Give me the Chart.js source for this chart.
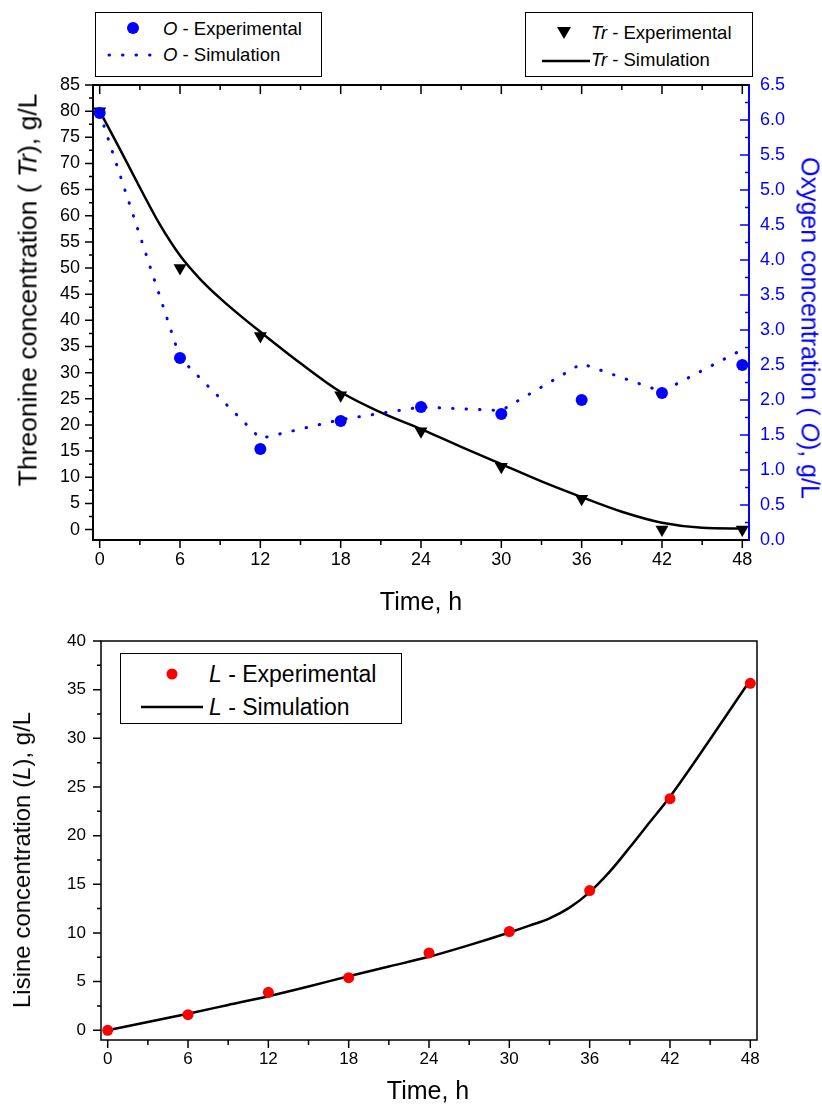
<!DOCTYPE html>
<html>
<head>
<meta charset="utf-8">
<script src="https://cdn.jsdelivr.net/npm/chart.js@4"></script>
<style>
  body { margin: 0; background: #fff; }
  #page { position: relative; width: 822px; height: 1111px; background: #fff; font-family: "Liberation Sans", Arial, sans-serif; }
  canvas { position: absolute; left: 0; }
  .title { position: absolute; white-space: nowrap; font-size: 25px; color: #000; }
  .legend { position: absolute; border: 1px solid #000; background: #fff; }
  .item { position: absolute; white-space: nowrap; transform: translateY(-50%); }
  .mark { position: absolute; }
</style>
</head>
<body>
<div id="page">
  <canvas id="top-chart" width="822" height="615" style="top:0"></canvas>
  <canvas id="bottom-chart" width="822" height="496" style="top:615px"></canvas>

  <!-- legends of the upper chart -->
  <div class="legend" style="left:95px; top:12px; width:225px; height:63px;">
    <svg class="mark" style="left:30px; top:8px" width="14" height="14"><circle cx="7" cy="7" r="6" fill="#0000ff"/></svg>
    <div class="item" style="left:67px; top:16px; font-size:18.5px;"><i>O</i> - Experimental</div>
    <svg class="mark" style="left:10px; top:38px" width="50" height="8"><line x1="3" y1="4" x2="48" y2="4" stroke="#0000ff" stroke-width="3" stroke-linecap="round" stroke-dasharray="0.5 13"/></svg>
    <div class="item" style="left:67px; top:42px; font-size:18.5px;"><i>O</i> - Simulation</div>
  </div>
  <div class="legend" style="left:525px; top:12px; width:226px; height:63px;">
    <svg class="mark" style="left:30px; top:13px" width="16" height="14"><polygon points="1,1 15,1 8,13" fill="#000"/></svg>
    <div class="item" style="left:65px; top:20px; font-size:18.5px;"><i>Tr</i> - Experimental</div>
    <svg class="mark" style="left:16px; top:45px" width="48" height="6"><line x1="0" y1="3" x2="48" y2="3" stroke="#000" stroke-width="2.5"/></svg>
    <div class="item" style="left:65px; top:47px; font-size:18.5px;"><i>Tr</i> - Simulation</div>
  </div>

  <!-- legend of the lower chart -->
  <div class="legend" style="left:120px; top:653px; width:280px; height:69px;">
    <svg class="mark" style="left:44px; top:13px" width="14" height="14"><circle cx="7" cy="7" r="5.5" fill="#ff0000"/></svg>
    <div class="item" style="left:88px; top:20px; font-size:23px;"><i>L</i> - Experimental</div>
    <svg class="mark" style="left:20px; top:50px" width="62" height="6"><line x1="0" y1="3" x2="62" y2="3" stroke="#000" stroke-width="2.5"/></svg>
    <div class="item" style="left:88px; top:53px; font-size:23px;"><i>L</i> - Simulation</div>
  </div>

  <!-- axis titles -->
  <div class="title" style="left:28px; top:290px; font-size:26.5px; transform:translate(-50%,-50%) rotate(-90deg);">Threonine concentration ( <i>Tr</i>), g/L</div>
  <div class="title" style="left:810px; top:328px; color:#0000ff; transform:translate(-50%,-50%) rotate(90deg);">Oxygen concentration ( <i>O</i>), g/L</div>
  <div class="title" style="left:421px; top:601px; transform:translate(-50%,-50%);">Time, h</div>
  <div class="title" style="left:22px; top:860px; font-size:24px; transform:translate(-50%,-50%) rotate(-90deg);">Lisine concentration (<i>L</i>), g/L</div>
  <div class="title" style="left:428px; top:1090px; transform:translate(-50%,-50%);">Time, h</div>
</div>

<script>
// sampling times of the experiments, h
const timeExp = [0, 6, 12, 18, 24, 30, 36, 42, 48];

// oxygen, g/L (right axis of the upper chart)
const oxygenExp = [6.1, 2.6, 1.3, 1.7, 1.9, 1.8, 2.0, 2.1, 2.5];
const oxygenSimTime = [0, 6, 12, 18, 24, 30, 36, 42, 48];
const oxygenSim = [6.1, 2.6, 1.45, 1.72, 1.9, 1.85, 2.52, 2.12, 2.72];

// threonine, g/L (left axis of the upper chart)
const threonineExp = [80, 50, 37, 25.7, 18.8, 12.0, 5.9, 0, 0];
const threonineSimTime = [0, 1.5, 3, 4.5, 6, 7.5, 9, 10.5, 12, 15, 18, 21, 24, 27, 30, 33, 36, 39, 42, 45, 48];
const threonineSim = [80, 72.8, 65.4, 58.3, 52.4, 47.9, 44.2, 40.9, 37.8, 31.8, 26.3, 22.4, 19.2, 15.8, 12.5, 9.2, 6.2, 3.4, 1.3, 0.35, 0.2];

// lisine, g/L (lower chart)
const lisineExp = [0, 1.6, 3.9, 5.4, 7.95, 10.15, 14.35, 23.8, 35.65];
const lisineSimTime = [0, 3, 6, 9, 12, 15, 18, 21, 24, 27, 30, 31.5, 33, 34.5, 36, 37.5, 39, 40.5, 42, 45, 48];
const lisineSim = [0, 0.85, 1.7, 2.6, 3.5, 4.5, 5.55, 6.55, 7.55, 8.75, 10.05, 10.75, 11.5, 12.6, 14.2, 16.3, 18.8, 21.4, 24.0, 29.9, 36.0];

// tick labels
const timeTicks = [0, 6, 12, 18, 24, 30, 36, 42, 48];
const threonineTicks = [0, 5, 10, 15, 20, 25, 30, 35, 40, 45, 50, 55, 60, 65, 70, 75, 80, 85];
const oxygenTicks = [0, 0.5, 1, 1.5, 2, 2.5, 3, 3.5, 4, 4.5, 5, 5.5, 6, 6.5];
const lisineTicks = [0, 5, 10, 15, 20, 25, 30, 35, 40];

const FONT = '"Liberation Sans", Arial, sans-serif';

function pairs(xs, ys) {
    return xs.map((x, i) => ({ x: x, y: ys[i] }));
}

// minor ticks sit half way between two labelled ones
function halves(ticks) {
    const out = [];
    for (let i = 0; i < ticks.length - 1; i++) out.push((ticks[i] + ticks[i + 1]) / 2);
    return out;
}

function fixTicks(values) {
    return scale => { scale.ticks = values.map(v => ({ value: v })); };
}

/**
 * Axis lines and tick marks, drawn from the chart scales
 */
function drawMarks(ctx, scale, values, edge, len, color) {
    ctx.strokeStyle = color;
    ctx.lineWidth = 1.5;
    ctx.beginPath();
    values.forEach(v => {
        const p = scale.getPixelForValue(v);
        if (scale.isHorizontal()) {
            ctx.moveTo(p, edge);
            ctx.lineTo(p, edge + len);
        } else {
            ctx.moveTo(edge, p);
            ctx.lineTo(edge + len, p);
        }
    });
    ctx.stroke();
}

function drawLine(ctx, x1, y1, x2, y2, color, width) {
    ctx.strokeStyle = color;
    ctx.lineWidth = width;
    ctx.beginPath();
    ctx.moveTo(x1, y1);
    ctx.lineTo(x2, y2);
    ctx.stroke();
}

const topFrame = {
    id: 'topFrame',
    afterDraw(chart) {
        const ctx = chart.ctx;
        const a = chart.chartArea;
        const x = chart.scales.x, y = chart.scales.y, y2 = chart.scales.y2;
        ctx.save();
        ctx.lineCap = 'butt';
        // bottom axis, ticks outward
        drawMarks(ctx, x, timeTicks, a.bottom, 8, '#000');
        drawMarks(ctx, x, halves(timeTicks), a.bottom, 5, '#000');
        // top axis, ticks inward
        drawMarks(ctx, x, timeTicks, a.top, 9, '#000');
        drawMarks(ctx, x, halves(timeTicks), a.top, 5, '#000');
        // left axis, ticks outward
        drawMarks(ctx, y, threonineTicks, a.left, -8, '#000');
        drawMarks(ctx, y, halves(threonineTicks), a.left, -4, '#000');
        // right axis (blue), ticks inward
        drawMarks(ctx, y2, oxygenTicks, a.right, -9, '#0000ff');
        drawMarks(ctx, y2, halves(oxygenTicks), a.right, -4, '#0000ff');
        drawLine(ctx, a.left, a.bottom, a.right, a.bottom, '#000', 2);
        drawLine(ctx, a.left, a.top, a.right, a.top, '#000', 2);
        drawLine(ctx, a.left, a.top - 1, a.left, a.bottom + 1, '#000', 2);
        drawLine(ctx, a.right, a.top - 1, a.right, a.bottom + 1, '#0000ff', 2);
        ctx.restore();
    }
};

const bottomFrame = {
    id: 'bottomFrame',
    afterDraw(chart) {
        const ctx = chart.ctx;
        const a = chart.chartArea;
        const x = chart.scales.x, y = chart.scales.y;
        ctx.save();
        drawMarks(ctx, x, timeTicks, a.bottom, 8, '#000');
        drawMarks(ctx, x, halves(timeTicks), a.bottom, 5, '#000');
        drawMarks(ctx, y, lisineTicks, a.left, -8, '#000');
        drawMarks(ctx, y, halves(lisineTicks), a.left, -4, '#000');
        ctx.strokeStyle = '#000';
        ctx.lineWidth = 1.5;
        ctx.strokeRect(a.left, a.top, a.right - a.left, a.bottom - a.top);
        ctx.restore();
    }
};

/**
 * Upper chart: threonine and oxygen
 */
new Chart(document.getElementById('top-chart'), {
    type: 'scatter',
    data: {
        datasets: [
            {
                label: 'O - Experimental',
                data: pairs(timeExp, oxygenExp),
                yAxisID: 'y2',
                pointStyle: 'circle',
                pointRadius: 6,
                backgroundColor: '#0000ff',
                borderColor: '#0000ff',
                borderWidth: 0,
                showLine: false,
                clip: false
            },
            {
                label: 'O - Simulation',
                data: pairs(oxygenSimTime, oxygenSim),
                yAxisID: 'y2',
                showLine: true,
                borderColor: '#0000ff',
                borderWidth: 3,
                borderDash: [0.5, 13],
                borderCapStyle: 'round',
                pointRadius: 0,
                tension: 0,
                clip: false
            },
            {
                label: 'Tr - Experimental',
                data: pairs(timeExp, threonineExp),
                yAxisID: 'y',
                pointStyle: 'triangle',
                rotation: 180,
                pointRadius: 7.5,
                backgroundColor: '#000',
                borderColor: '#000',
                borderWidth: 0,
                showLine: false,
                clip: false
            },
            {
                label: 'Tr - Simulation',
                data: pairs(threonineSimTime, threonineSim),
                yAxisID: 'y',
                showLine: true,
                borderColor: '#000',
                borderWidth: 2.5,
                pointRadius: 0,
                cubicInterpolationMode: 'monotone',
                clip: false
            }
        ]
    },
    options: {
        responsive: false,
        animation: false,
        devicePixelRatio: 1,
        layout: { padding: { top: 85, left: 0, right: 0, bottom: 0 } },
        plugins: { legend: { display: false }, tooltip: { enabled: false } },
        scales: {
            x: {
                type: 'linear', position: 'bottom', min: -0.5, max: 48.5,
                afterBuildTicks: fixTicks(timeTicks),
                afterFit: s => { s.height = 75; },
                grid: { display: false, drawTicks: false },
                border: { display: false },
                ticks: { color: '#000', font: { family: FONT, size: 18 }, padding: 9, maxRotation: 0, autoSkip: false }
            },
            y: {
                type: 'linear', position: 'left', min: -2, max: 85,
                afterBuildTicks: fixTicks(threonineTicks),
                afterFit: s => { s.width = 93; },
                grid: { display: false, drawTicks: false },
                border: { display: false },
                ticks: { color: '#000', font: { family: FONT, size: 18 }, padding: 13, autoSkip: false }
            },
            y2: {
                type: 'linear', position: 'right', min: 0, max: 6.5,
                afterBuildTicks: fixTicks(oxygenTicks),
                afterFit: s => { s.width = 73; },
                grid: { display: false, drawTicks: false },
                border: { display: false },
                ticks: { color: '#0000ff', font: { family: FONT, size: 18 }, padding: 11, autoSkip: false,
                         callback: v => v.toFixed(1) }
            }
        }
    },
    plugins: [topFrame]
});

/**
 * Lower chart: lisine
 */
new Chart(document.getElementById('bottom-chart'), {
    type: 'scatter',
    data: {
        datasets: [
            {
                label: 'L - Experimental',
                data: pairs(timeExp, lisineExp),
                pointStyle: 'circle',
                pointRadius: 5.5,
                backgroundColor: '#ff0000',
                borderColor: '#ff0000',
                borderWidth: 0,
                showLine: false,
                clip: false
            },
            {
                label: 'L - Simulation',
                data: pairs(lisineSimTime, lisineSim),
                showLine: true,
                borderColor: '#000',
                borderWidth: 2.5,
                pointRadius: 0,
                cubicInterpolationMode: 'monotone',
                clip: false
            }
        ]
    },
    options: {
        responsive: false,
        animation: false,
        devicePixelRatio: 1,
        layout: { padding: { top: 26, left: 0, right: 65, bottom: 0 } },
        plugins: { legend: { display: false }, tooltip: { enabled: false } },
        scales: {
            x: {
                type: 'linear', position: 'bottom', min: -0.5, max: 48.5,
                afterBuildTicks: fixTicks(timeTicks),
                afterFit: s => { s.height = 71; },
                grid: { display: false, drawTicks: false },
                border: { display: false },
                ticks: { color: '#000', font: { family: FONT, size: 17 }, padding: 9, maxRotation: 0, autoSkip: false }
            },
            y: {
                type: 'linear', position: 'left', min: -1, max: 40,
                afterBuildTicks: fixTicks(lisineTicks),
                afterFit: s => { s.width = 101; },
                grid: { display: false, drawTicks: false },
                border: { display: false },
                ticks: { color: '#000', font: { family: FONT, size: 17 }, padding: 15, autoSkip: false }
            }
        }
    },
    plugins: [bottomFrame]
});
</script>
</body>
</html>
